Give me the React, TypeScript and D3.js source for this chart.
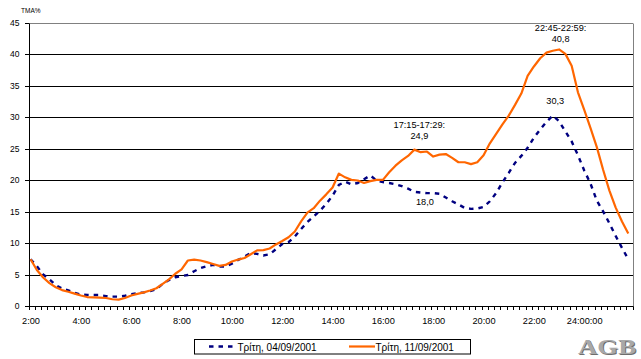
import React from "react";
import * as d3 from "d3";

// quarter-hour categories from 02:00 to 25:45 (next day 01:45)
const quarterStarts: number[] = d3.range(96).map((i) => 2 + i * 0.25);

const seriesNames = ["Τρίτη, 04/09/2001", "Τρίτη, 11/09/2001"];

const tue0409 = [
  7.5, 6.4, 5.1, 4.3,
  3.4, 2.85, 2.55, 2.15,
  1.9, 1.85, 1.83, 1.83,
  1.65, 1.56, 1.56, 1.7,
  1.94, 2.1, 2.25, 2.45,
  2.75, 3.6, 4.2, 4.65,
  4.85, 5.0, 5.6, 6.1,
  6.4, 6.6, 6.35, 6.35,
  6.8, 7.4, 7.9, 8.5,
  8.35, 8.1, 8.3, 9.1,
  9.9, 10.2, 11.1, 12.3,
  13.4, 14.3, 15.2, 16.3,
  17.6, 19.3, 19.8, 19.4,
  19.6, 20.2, 20.8, 20.0,
  19.75, 19.6, 19.4, 19.1,
  18.7, 18.2, 18.1, 18.0,
  18.0, 17.9, 17.3, 16.7,
  16.2, 15.65, 15.5, 15.55,
  15.8, 16.7, 18.0, 19.7,
  21.2, 22.8, 23.9, 25.2,
  26.8, 28.1, 29.3, 30.3,
  29.4, 27.8, 26.2, 24.0,
  21.6, 19.5, 16.8, 15.1,
  13.2, 11.2, 9.3, 7.5,
];

const tue1109 = [
  7.5, 5.8, 4.6, 3.7,
  3.05, 2.6, 2.35, 2.05,
  1.75, 1.5, 1.45, 1.4,
  1.35, 1.15, 1.1, 1.35,
  1.75, 2.0, 2.25, 2.55,
  2.9, 3.6, 4.3, 5.2,
  5.9, 7.3, 7.45, 7.3,
  7.05, 6.75, 6.45, 6.6,
  7.15, 7.45, 7.7, 8.3,
  8.9, 8.95, 9.2, 9.85,
  10.4, 11.0, 11.9, 13.5,
  14.9, 15.6, 16.8, 17.8,
  18.9, 21.1, 20.5, 20.1,
  20.0, 19.6, 19.9, 20.1,
  20.1, 21.3, 22.35, 23.2,
  23.9, 24.9, 24.5, 24.6,
  23.8, 24.1, 24.2, 23.6,
  22.9, 22.9, 22.6, 22.9,
  24.0, 25.9, 27.4, 28.9,
  30.3, 32.0, 33.8, 36.6,
  38.1, 39.4, 40.3, 40.6,
  40.8, 40.1, 38.2, 34.0,
  31.2, 28.3, 25.3, 21.7,
  18.4, 15.7, 13.5, 11.6,
];

const xTickHours = [2, 4, 6, 8, 10, 12, 14, 16, 18, 20, 22, 24];
const xTickLabels = ["2:00", "4:00", "6:00", "8:00", "10:00", "12:00", "14:00", "16:00", "18:00", "20:00", "22:00", "24:00:00"];
const yTicks = [0, 5, 10, 15, 20, 25, 30, 35, 40, 45];
const yTitle = "TMA%";

// data labels: series index, point index, text lines
const annotations = [
  { series: 1, index: 61, lines: ["17:15-17:29:", "24,9"] },
  { series: 1, index: 84, lines: ["22:45-22:59:", "40,8"] },
  { series: 0, index: 83, lines: ["30,3"] },
  { series: 0, index: 63, lines: ["18,0"] },
];

const W = 641;
const H = 359;
const X0 = 29;
const X1 = 633;
const Y0 = 306.5;
const Y1 = 23;

const BLUE = "#000080";
const ORANGE = "#FF6600";
const FONT = "'Liberation Sans', Arial, sans-serif";

export default function App() {
  const x = d3.scaleLinear().domain([2, 26]).range([X0, X1]);
  const y = d3.scaleLinear().domain([0, 45]).range([Y0, Y1]);
  const px = (i: number) => x(quarterStarts[i] + 0.0625);

  const line = d3
    .line<number>()
    .x((_, i) => px(i))
    .y((d) => y(d))
    .curve(d3.curveLinear);

  const series = [tue0409, tue1109];
  const crisp = (v: number) => Math.floor(v) + 0.5;

  const quarterTicks = d3.range(2, 26.001, 0.25);

  // per-label placement offsets (dx, dy per line)
  const labelOffsets: { dx: number; dys: number[] }[] = [
    { dx: 5, dys: [-22, -11] },
    { dx: 1.5, dys: [-18, -7] },
    { dx: 2.5, dys: [-12] },
    { dx: -2, dys: [12] },
  ];

  return (
    <svg
      width={W}
      height={H}
      viewBox={`0 0 ${W} ${H}`}
      style={{ position: "absolute", left: 0, top: 0, background: "#fff" }}
      fontFamily={FONT}
    >
      <rect x={0} y={0} width={W} height={H} fill="#fff" />

      {/* gridlines */}
      {yTicks
        .filter((t) => t > 0 && t < 45)
        .map((t) => (
          <line key={`g${t}`} x1={X0} x2={X1} y1={crisp(y(t))} y2={crisp(y(t))} stroke="#000" strokeWidth={1} />
        ))}

      {/* plot border top / right */}
      <line x1={X0} x2={X1} y1={crisp(y(45))} y2={crisp(y(45))} stroke="#808080" strokeWidth={1} />
      <line x1={crisp(X1)} x2={crisp(X1)} y1={crisp(y(45))} y2={crisp(Y0)} stroke="#808080" strokeWidth={1} />

      {/* y axis */}
      <line x1={crisp(X0)} x2={crisp(X0)} y1={crisp(y(45))} y2={crisp(Y0)} stroke="#000" strokeWidth={1} />
      {yTicks.map((t) => (
        <g key={`yt${t}`}>
          <line x1={X0 - 4} x2={X0} y1={crisp(y(t))} y2={crisp(y(t))} stroke="#000" strokeWidth={1} />
          <text x={19.5} y={y(t)} dy="0.35em" textAnchor="end" fontSize={8.5} fill="#000">
            {t}
          </text>
        </g>
      ))}
      <text x={21} y={12.5} fontSize={6.5} fill="#000">
        {yTitle}
      </text>

      {/* x axis */}
      <line x1={X0} x2={X1 + 0.5} y1={crisp(Y0)} y2={crisp(Y0)} stroke="#000" strokeWidth={1} />
      {quarterTicks.map((t, i) => (
        <line key={`xt${i}`} x1={crisp(x(t))} x2={crisp(x(t))} y1={crisp(Y0)} y2={crisp(Y0) + 3.5} stroke="#000" strokeWidth={1} />
      ))}
      {xTickHours.map((h, i) => (
        <text key={`xl${h}`} x={x(h) + 2} y={324} textAnchor="middle" fontSize={9.2} fill="#000">
          {xTickLabels[i]}
        </text>
      ))}

      {/* series */}
      <path d={line(tue0409) || ""} fill="none" stroke={BLUE} strokeWidth={2.4} strokeDasharray="4.5 5" />
      <path d={line(tue1109) || ""} fill="none" stroke={ORANGE} strokeWidth={2.2} strokeLinejoin="round" />

      {/* data labels */}
      {annotations.map((a, k) => {
        const ax = px(a.index) + labelOffsets[k].dx;
        const ay = y(series[a.series][a.index]);
        return a.lines.map((ln, j) => (
          <text key={`an${k}-${j}`} x={ax} y={ay + labelOffsets[k].dys[j]} textAnchor="middle" fontSize={9.2} fill="#000">
            {ln}
          </text>
        ));
      })}

      {/* legend */}
      <rect x={194.5} y={339.5} width={276} height={14.5} fill="#fff" stroke="#000" strokeWidth={1} />
      <line x1={209} x2={237} y1={346.5} y2={346.5} stroke={BLUE} strokeWidth={2.4} strokeDasharray="4.5 5" />
      <text x={237.5} y={350.5} fontSize={10} fill="#000">
        {seriesNames[0]}
      </text>
      <line x1={349} x2={375} y1={346.5} y2={346.5} stroke={ORANGE} strokeWidth={2.2} />
      <text x={375.5} y={350.5} fontSize={10} fill="#000">
        {seriesNames[1]}
      </text>

      {/* AGB logo */}
      <g fontFamily="'Liberation Serif', 'DejaVu Serif', serif" fontWeight="bold" fontSize={20}>
        <text x={579} y={355} fill="#6e6e6e" textLength={58} lengthAdjust="spacingAndGlyphs">
          AGB
        </text>
        <text x={578} y={354} fill="#a8a8a8" textLength={58} lengthAdjust="spacingAndGlyphs">
          AGB
        </text>
      </g>
    </svg>
  );
}
